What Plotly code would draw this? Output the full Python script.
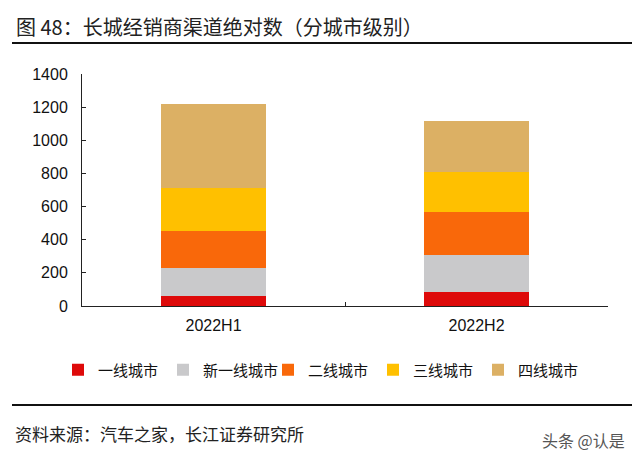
import plotly.graph_objects as go

categories = ["2022H1", "2022H2"]
series_names = ["一线城市", "新一线城市", "二线城市", "三线城市", "四线城市"]
tier1 = [60, 83]
new_tier1 = [172, 224]
tier2 = [220, 258]
tier3 = [258, 242]
tier4 = [510, 310]
series_values = [tier1, new_tier1, tier2, tier3, tier4]
colors = ["#DE0A0A", "#C9C9CB", "#F9680A", "#FFC000", "#DCB064"]

# page has an 8px body margin; figure drawn at (8, 8)
OX, OY = 8, 8
W, H = 640 - OX, 460 - OY
L, R, T, B = 82 - OX, 640 - 608, 74 - OY, 460 - 306
pw, ph = W - L - R, H - T - B


def px(x):
    return (x - OX - L) / pw


def py(y):
    return (H - B - (y - OY)) / ph


fig = go.Figure()
for name, vals, c in zip(series_names, series_values, colors):
    fig.add_trace(go.Bar(x=categories, y=vals, name=name, marker=dict(color=c, line=dict(width=0)), width=0.4))

cjk = "Noto Sans CJK SC"
fig.update_layout(
    width=W, height=H,
    margin=dict(l=L, r=R, t=T, b=B),
    barmode="stack",
    plot_bgcolor="white", paper_bgcolor="white",
    font=dict(family="Liberation Sans, Arial", size=16, color="#111"),
    showlegend=True,
    legend=dict(orientation="h", x=px(58), xanchor="left", y=py(370), yanchor="middle",
                font=dict(family=cjk, size=15, color="#111"), itemwidth=30,
                entrywidth=60, entrywidthmode="pixels",
                traceorder="normal", tracegroupgap=0),
    xaxis=dict(showline=True, linecolor="#222", linewidth=1, ticks="inside", ticklen=4,
               tickson="boundaries", tickcolor="#222", showgrid=False, ticklabelstandoff=5,
               tickfont=dict(family="Liberation Sans, Arial", size=16)),
    yaxis=dict(range=[0, 1400], dtick=200, showline=True, linecolor="#222", linewidth=1,
               ticks="inside", ticklen=4, tickcolor="#222", showgrid=False, zeroline=False,
               ticklabelstandoff=10,
               tickfont=dict(family="Liberation Sans, Arial", size=16)),
)

fig.add_annotation(text="图 48：长城经销商渠道绝对数（分城市级别）", xref="paper", yref="paper",
                   x=px(14), y=py(27), xanchor="left", yanchor="middle", showarrow=False,
                   font=dict(family=cjk, size=20, color="#222"))
fig.add_annotation(text="资料来源：汽车之家，长江证券研究所", xref="paper", yref="paper",
                   x=px(13), y=py(433), xanchor="left", yanchor="middle", showarrow=False,
                   font=dict(family=cjk, size=17, color="#222"))
fig.add_annotation(text="头条 @认是", xref="paper", yref="paper",
                   x=px(627), y=py(440), xanchor="right", yanchor="middle", showarrow=False,
                   font=dict(family=cjk, size=16, color="#555"))

for yy in (43, 405):
    fig.add_shape(type="line", xref="paper", yref="paper", x0=px(12), x1=px(633), y0=py(yy), y1=py(yy),
                  line=dict(color="#111", width=2))

fig.write_html("out.html")
